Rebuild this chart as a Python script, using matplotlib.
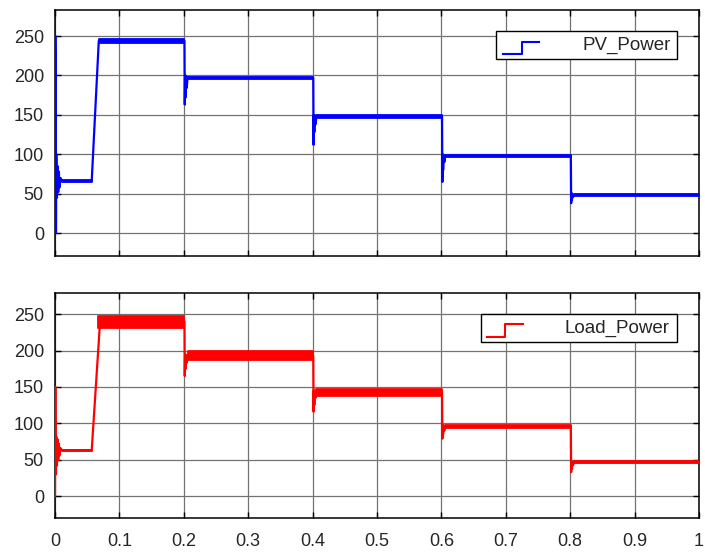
import matplotlib
matplotlib.use("Agg")
import matplotlib.pyplot as plt
from matplotlib.patches import Rectangle
from matplotlib.lines import Line2D

plt.rcParams['font.family'] = ['Liberation Sans', 'DejaVu Sans']

# ---------------- data ----------------
x_ticks = [0, 0.1, 0.2, 0.3, 0.4, 0.5, 0.6, 0.7, 0.8, 0.9, 1]
x_tick_labels = ['0', '0.1', '0.2', '0.3', '0.4', '0.5', '0.6', '0.7', '0.8', '0.9', '1']
y_ticks = [0, 50, 100, 150, 200, 250]

# PV power: centre trace incl. transients
pv_t = [0.000, 0.0005, 0.0010, 0.0015, 0.0020, 0.0030, 0.0040, 0.0050, 0.0060, 0.0070, 0.0085, 0.0110, 0.0570, 0.0680,
        0.2010, 0.2015, 0.2020, 0.2027, 0.2035, 0.2045, 0.2060, 0.2080,
        0.4010, 0.4015, 0.4020, 0.4027, 0.4035, 0.4045, 0.4060, 0.4080,
        0.6010, 0.6015, 0.6020, 0.6027, 0.6035, 0.6045, 0.6060, 0.6080,
        0.8010, 0.8015, 0.8020, 0.8027, 0.8035, 0.8045, 0.8060, 0.8080, 1.0]
pv_v = [0, 250, 205, 0, 100, 45, 85, 52, 78, 58, 70, 66, 66, 244,
        244, 163, 200, 172, 199, 184, 198, 197,
        197, 112, 150, 128, 149, 138, 148, 148,
        148, 65, 100, 80, 99, 90, 98, 98,
        98, 38, 51, 42, 49.5, 46, 48.5, 48.5, 48.5]
# PV steady segments (ripple band)
pv_seg_t0 = [0.011, 0.068, 0.206, 0.406, 0.606, 0.806]
pv_seg_t1 = [0.057, 0.201, 0.401, 0.601, 0.801, 1.000]
pv_level = [66, 244, 197, 148, 98, 48.5]
pv_ripple = [1.0, 2.5, 1.5, 1.5, 1.5, 1.5]

# Load power
load_t = [0.000, 0.0005, 0.0010, 0.0015, 0.0020, 0.0030, 0.0040, 0.0050, 0.0060, 0.0070, 0.0085, 0.0110, 0.0570, 0.0700,
          0.2010, 0.2015, 0.2020, 0.2027, 0.2035, 0.2045, 0.2060, 0.2080,
          0.4010, 0.4015, 0.4020, 0.4027, 0.4035, 0.4045, 0.4060, 0.4080,
          0.6010, 0.6015, 0.6020, 0.6027, 0.6035, 0.6045, 0.6060, 0.6080,
          0.8010, 0.8015, 0.8020, 0.8027, 0.8035, 0.8045, 0.8060, 0.8080, 1.0]
load_v = [0, 150, 60, 30, 82, 42, 78, 50, 72, 56, 66, 63, 63, 240,
          240, 165, 195, 175, 194, 183, 193, 193,
          193, 116, 145, 125, 144, 135, 143, 143,
          143, 79, 98, 85, 96, 90, 95.5, 95.5,
          95.5, 33, 48, 38, 47, 43, 46.5, 46.5, 46.5]
load_seg_t0 = [0.011, 0.067, 0.206, 0.406, 0.606, 0.806]
load_seg_t1 = [0.057, 0.201, 0.401, 0.601, 0.801, 1.000]
load_level = [63, 239.5, 193, 142.5, 96, 46.5]
load_ripple = [1.0, 8.5, 6.0, 4.5, 2.0, 1.5]

series = [
    dict(t=pv_t, v=pv_v, t0=pv_seg_t0, t1=pv_seg_t1, lev=pv_level, rip=pv_ripple,
         color='#0000ff', label='PV_Power', ylim=(-29, 283)),
    dict(t=load_t, v=load_v, t0=load_seg_t0, t1=load_seg_t1, lev=load_level, rip=load_ripple,
         color='#ff0000', label='Load_Power', ylim=(-30, 279)),
]

# ---------------- layout ----------------
W, H = 705, 552
fig = plt.figure(figsize=(W / 100, H / 100), dpi=100)

def fx(px):
    return px / W

def fy(py):
    return 1 - py / H

axes_px = [(55, 10, 699, 256), (55, 293, 699, 518)]
legend_px = [
    dict(box=(496, 31, 677, 59), step=(503, 521.5, 539, 54.3, 41.7), text=(671, 45.5)),
    dict(box=(481, 314, 677, 342), step=(487, 505, 523, 336.7, 324), text=(670, 328.5)),
]

for i, s in enumerate(series):
    x0, y0, x1, y1 = axes_px[i]
    ax = fig.add_axes([fx(x0), fy(y1), fx(x1) - fx(x0), fy(y0) - fy(y1)])
    for a, b, lv, rp in zip(s['t0'], s['t1'], s['lev'], s['rip']):
        ax.fill_between([a, b], [lv - rp, lv - rp], [lv + rp, lv + rp],
                        color=s['color'], lw=1.3, edgecolor=s['color'], zorder=3)
    ax.plot(s['t'], s['v'], color=s['color'], lw=1.6, zorder=3)
    ax.set_xlim(0, 1)
    ax.set_ylim(*s['ylim'])
    ax.set_xticks(x_ticks)
    ax.set_yticks(y_ticks)
    if i == 1:
        ax.set_xticklabels(x_tick_labels)
    else:
        ax.set_xticklabels([])
    ax.grid(True, color='0.45', lw=0.9)
    ax.set_axisbelow(True)
    ax.tick_params(direction='in', length=4, width=1, top=True, right=True,
                   labelsize=13, labelcolor='#262626', color='black')
    ax.tick_params(axis='x', pad=11)
    ax.tick_params(axis='y', pad=8)
    for sp in ax.spines.values():
        sp.set_color('black')
        sp.set_linewidth(1.1)

    # legend box (MATLAB style)
    lg = legend_px[i]
    bx0, by0, bx1, by1 = lg['box']
    fig.add_artist(Rectangle((fx(bx0), fy(by1)), fx(bx1) - fx(bx0), fy(by0) - fy(by1),
                             transform=fig.transFigure, facecolor='white',
                             edgecolor='black', lw=1.0, zorder=5))
    sx0, sxm, sx1, ylow, yhigh = lg['step']
    fig.add_artist(Line2D([fx(sx0), fx(sxm), fx(sxm), fx(sx1)],
                          [fy(ylow), fy(ylow), fy(yhigh), fy(yhigh)],
                          transform=fig.transFigure, color=s['color'], lw=1.5, zorder=6))
    tx, ty = lg['text']
    fig.text(fx(tx), fy(ty), s['label'], ha='right', va='center', fontsize=13.5,
             color='#262626', zorder=6)

fig.savefig('out.png', dpi=100)
